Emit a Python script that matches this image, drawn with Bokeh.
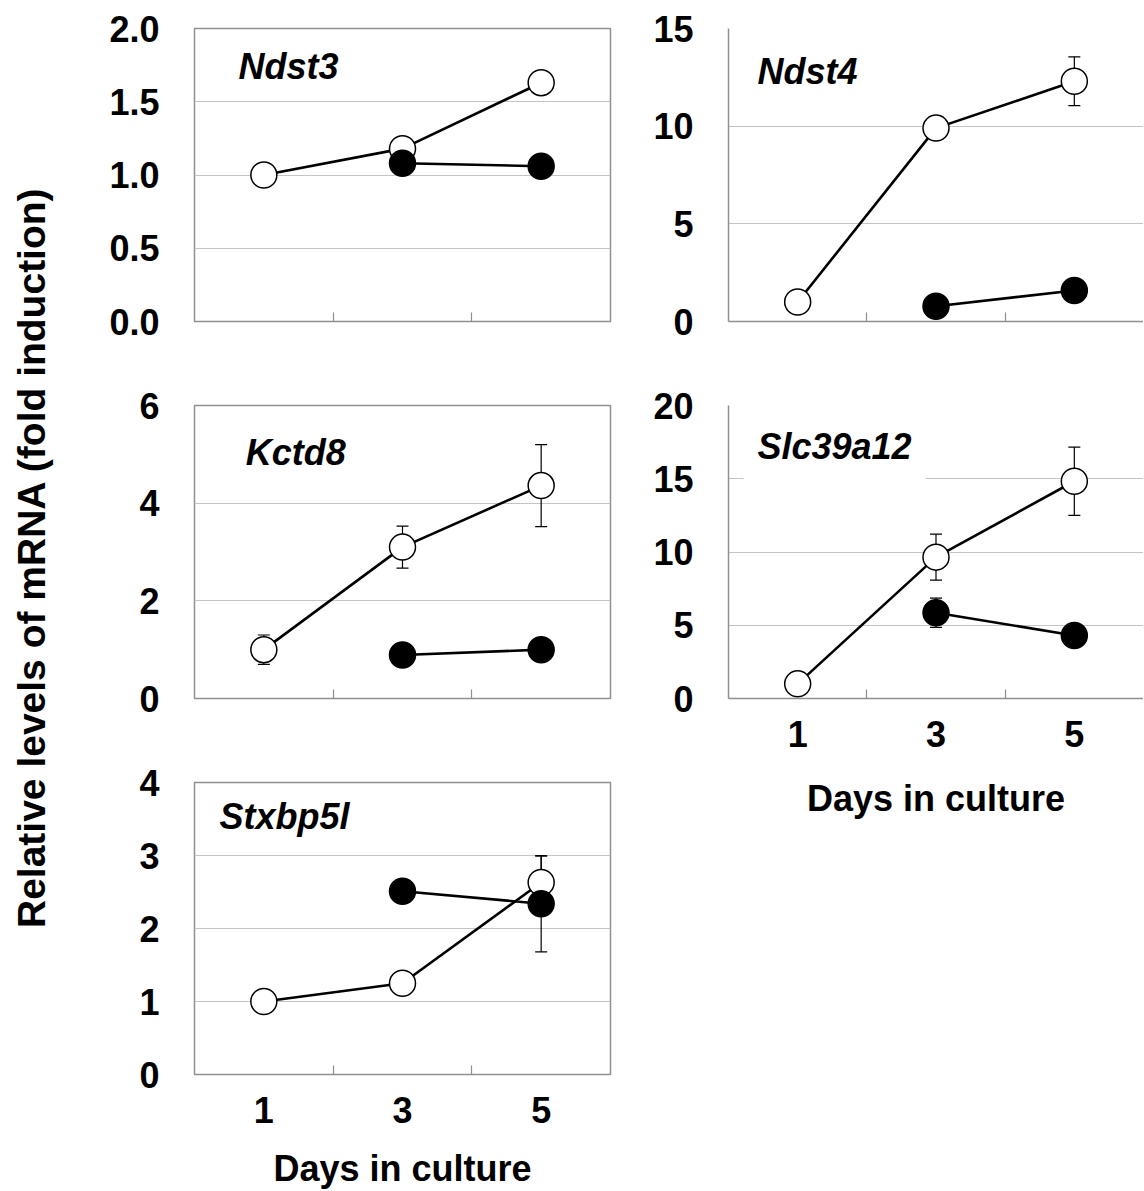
import numpy as np
from bokeh.plotting import figure
from bokeh.layouts import row, column
from bokeh.models import (Range1d, FixedTicker, Label, Whisker, ColumnDataSource, TeeHead,
                          NumeralTickFormatter, Grid)
from bokeh.core.properties import value
from bokeh.embed import file_html
from bokeh.resources import INLINE

# ---------------- data ----------------
days = [1, 3, 5]
days_treated = [3, 5]
day_tick_labels = ["1", "3", "5"]

ndst3_open = [1.00, 1.18, 1.63]
ndst3_open_err = [0.0, 0.0, 0.0]
ndst3_filled = [1.08, 1.06]
ndst3_filled_err = [0.0, 0.0]
ndst3_yticks = [0.0, 0.5, 1.0, 1.5, 2.0]

ndst4_open = [1.0, 9.9, 12.3]
ndst4_open_err = [0.1, 0.3, 1.25]
ndst4_filled = [0.78, 1.59]
ndst4_filled_err = [0.1, 0.2]
ndst4_yticks = [0, 5, 10, 15]

kctd8_open = [1.0, 3.10, 4.36]
kctd8_open_err = [0.30, 0.43, 0.84]
kctd8_filled = [0.89, 1.00]
kctd8_filled_err = [0.05, 0.05]
kctd8_yticks = [0, 2, 4, 6]

slc_open = [1.0, 9.65, 14.83]
slc_open_err = [0.2, 1.57, 2.33]
slc_filled = [5.85, 4.30]
slc_filled_err = [1.0, 0.3]
slc_yticks = [0, 5, 10, 15, 20]

stx_open = [1.0, 1.25, 2.63]
stx_open_err = [0.05, 0.1, 0.36]
stx_filled = [2.51, 2.34]
stx_filled_err = [0.1, 0.66]
stx_yticks = [0, 1, 2, 3, 4]

FONT = "Liberation Sans"
FS = "36px"
FRAME = "#8f8f8f"
GRID = "#c4c4c4"


def make_panel(name, yticks, yfmt, ctrl, ctrl_err, trt, trt_err, fx, fy,
               width, height, mbl, mbr, mbt, mbb, show_x, title_standoff=12,
               label_bg=False, open_right=False):
    ymax = yticks[-1]
    p = figure(width=width, height=height, x_range=Range1d(0, 6), y_range=Range1d(0, ymax),
               output_backend="svg", toolbar_location=None,
               min_border_left=mbl, min_border_right=mbr, min_border_top=mbt, min_border_bottom=mbb)
    p.background_fill_color = "white"
    p.border_fill_color = "white"
    p.xgrid.visible = False
    p.ygrid.ticker = FixedTicker(ticks=yticks)
    p.ygrid.grid_line_color = GRID
    p.ygrid.grid_line_width = 1

    ya = p.yaxis[0]
    ya.ticker = FixedTicker(ticks=yticks)
    ya.formatter = NumeralTickFormatter(format=yfmt)
    ya.major_tick_line_color = None
    ya.minor_tick_line_color = None
    ya.major_tick_out = 0
    ya.major_tick_in = 0
    ya.major_label_standoff = 35
    ya.major_label_text_font = FONT
    ya.major_label_text_font_size = FS
    ya.major_label_text_font_style = "bold"
    ya.major_label_text_color = "black"

    xa = p.xaxis[0]
    xa.ticker = FixedTicker(ticks=days if show_x else [], minor_ticks=[2, 4])
    if show_x:
        xa.major_label_overrides = {d: s for d, s in zip(days, day_tick_labels)}
        xa.axis_label = "Days in culture"
        xa.axis_label_text_font = FONT
        xa.axis_label_text_font_size = FS
        xa.axis_label_text_font_style = "bold"
        xa.axis_label_text_color = "black"
        xa.axis_label_standoff = title_standoff
    xa.major_tick_line_color = None
    xa.major_tick_out = 0
    xa.major_tick_in = 0
    xa.minor_tick_line_color = FRAME
    xa.minor_tick_line_width = 1.2
    xa.minor_tick_in = 9
    xa.minor_tick_out = 0
    xa.major_label_standoff = 22
    xa.major_label_text_font = FONT
    xa.major_label_text_font_size = FS
    xa.major_label_text_font_style = "bold"
    xa.major_label_text_color = "black"

    if open_right:
        # frame cut off at the right edge: draw left, bottom and top borders only
        p.outline_line_color = None
        ya.axis_line_color = FRAME
        ya.axis_line_width = 1.5
        xa.axis_line_color = FRAME
        xa.axis_line_width = 1.5
        top = Grid(dimension=1, ticker=FixedTicker(ticks=[ymax]),
                   grid_line_color=FRAME, grid_line_width=1.5)
        p.add_layout(top)
    else:
        p.outline_line_color = FRAME
        p.outline_line_width = 1.5
        ya.axis_line_color = None
        xa.axis_line_color = None

    # error bars
    src_c = ColumnDataSource(dict(x=days, upper=[v + e for v, e in zip(ctrl, ctrl_err)],
                                  lower=[v - e for v, e in zip(ctrl, ctrl_err)]))
    src_t = ColumnDataSource(dict(x=days_treated, upper=[v + e for v, e in zip(trt, trt_err)],
                                  lower=[v - e for v, e in zip(trt, trt_err)]))
    for src in (src_c, src_t):
        w = Whisker(base="x", upper="upper", lower="lower", source=src,
                    line_color="black", line_width=1.2,
                    upper_head=TeeHead(size=12, line_color="black", line_width=1.2),
                    lower_head=TeeHead(size=12, line_color="black", line_width=1.2))
        p.add_layout(w)

    p.line(days, ctrl, line_width=2.6, line_color="black")
    p.line(days_treated, trt, line_width=2.6, line_color="black")
    p.scatter(days, ctrl, marker="circle", size=26, fill_color="white", line_color="black", line_width=1.5)
    p.scatter(days_treated, trt, marker="circle", size=26, fill_color="black", line_color="black", line_width=1.5)

    kw = dict(x=6 * fx, y=ymax * fy, text=name, text_font=FONT, text_font_size=FS,
              text_font_style="bold italic", text_color="black", text_align="left",
              text_baseline="alphabetic")
    if label_bg:
        try:
            lab = Label(background_fill_color="white", padding=14, **kw)
        except Exception:
            lab = Label(background_fill_color="white", **kw)
    else:
        lab = Label(**kw)
    p.add_layout(lab)
    return p


pA = make_panel("Ndst3", ndst3_yticks, "0.0", ndst3_open, ndst3_open_err, ndst3_filled, ndst3_filled_err,
                0.106, 0.869, 582, 364, 126, 40, 28, 43, False)
pC = make_panel("Kctd8", kctd8_yticks, "0", kctd8_open, kctd8_open_err, kctd8_filled, kctd8_filled_err,
                0.123, 0.840, 582, 377, 126, 40, 41, 43, False)
pE = make_panel("Stxbp5l", stx_yticks, "0", stx_open, stx_open_err, stx_filled, stx_filled_err,
                0.06, 0.882, 582, 450, 126, 40, 41, 116, True, title_standoff=22)
pB = make_panel("Ndst4", ndst4_yticks, "0", ndst4_open, ndst4_open_err, ndst4_filled, ndst4_filled_err,
                0.07, 0.853, 493, 364, 78, 0, 28, 43, False, open_right=True)
pD = make_panel("Slc39a12", slc_yticks, "0", slc_open, slc_open_err, slc_filled, slc_filled_err,
                0.036, 0.860, 493, 466, 78, 0, 41, 132, True, title_standoff=28,
                label_bg=True, open_right=True)

# y-axis title panel
py = figure(width=68, height=1191, x_range=Range1d(0, 68), y_range=Range1d(0, 1191),
            output_backend="svg", toolbar_location=None, x_axis_type=None, y_axis_type=None,
            min_border=0)
py.outline_line_color = None
py.grid.visible = False
py.text(x=[31], y=[634], text=["Relative levels of mRNA (fold induction)"], angle=np.pi / 2,
        text_align="center", text_baseline="middle", text_font=value(FONT),
        text_font_size=value("39px"), text_font_style="bold", text_color="black")

layout = row(py, column(pA, pC, pE), column(pB, pD))
open("out.html", "w").write(file_html(layout, INLINE))
